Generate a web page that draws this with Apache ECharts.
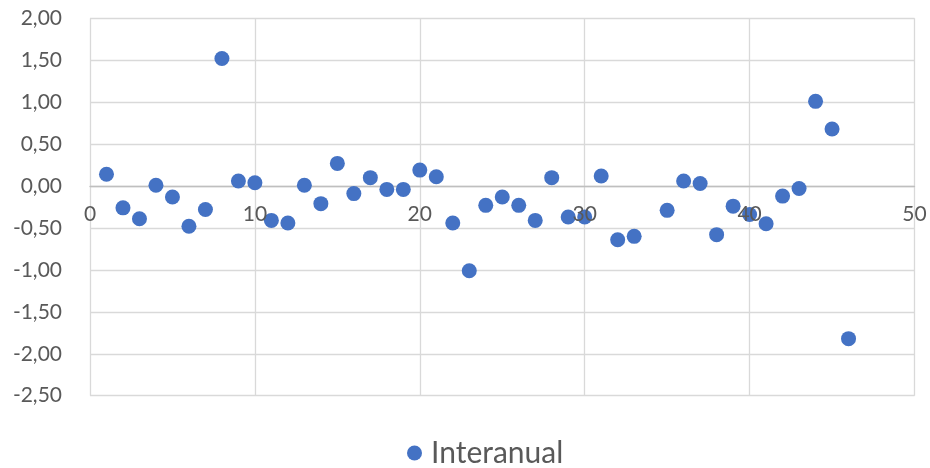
<!DOCTYPE html>
<html>
<head>
<meta charset="utf-8">
<script src="https://cdn.jsdelivr.net/npm/echarts@6/dist/echarts.min.js"></script>
<style>html,body{margin:0;padding:0;background:#fff;}#c{width:930px;height:468px;}</style>
</head>
<body>
<div id="c"></div>
<script>
const seriesName = 'Interanual';
const xValues = [1,2,3,4,5,6,7,8,9,10,11,12,13,14,15,16,17,18,19,20,21,22,23,24,25,26,27,28,29,30,31,32,33,35,36,37,38,39,40,41,42,43,44,45,46];
const yValues = [0.14,-0.26,-0.39,0.01,-0.13,-0.48,-0.28,1.52,0.06,0.04,-0.41,-0.44,0.01,-0.21,0.27,-0.09,0.10,-0.04,-0.04,0.19,0.11,-0.44,-1.01,-0.23,-0.13,-0.23,-0.41,0.10,-0.37,-0.37,0.12,-0.64,-0.60,-0.29,0.06,0.03,-0.58,-0.24,-0.34,-0.45,-0.12,-0.03,1.01,0.68,-1.82];

const points = xValues.map((x, i) => [x, yValues[i]]);
const font = 'Lato, "Open Sans", sans-serif';
const gridTop = 18.3, gridBottom = 72.3, chartH = 468;
const xMin = 0, xMax = 50, xStep = 10;
const yMin = -2.5, yMax = 2;
// distance from the plot's bottom edge up to the zero line, so the x labels sit under the zero line
const zeroOffset = (chartH - gridBottom - gridTop) * (0 - yMin) / (yMax - yMin);
const chart = echarts.init(document.getElementById('c'));
chart.setOption({
  animation: false,
  grid: { left: 90, right: 15.5, top: gridTop, bottom: gridBottom, containLabel: false },
  legend: {
    top: 433, left: 402,
    icon: 'circle', itemWidth: 15, itemHeight: 15, itemGap: 10,
    textStyle: { fontSize: 30, color: '#595959', fontFamily: font, padding: [0, 0, 0, 4] },
    data: [seriesName]
  },
  xAxis: [{
    type: 'value', min: xMin, max: xMax, interval: xStep, position: 'bottom',
    axisLine: { show: true, onZero: true, lineStyle: { color: '#bfbfbf', width: 1.3 } },
    axisTick: { show: false },
    axisLabel: { show: false },
    splitLine: { show: true, lineStyle: { color: '#d9d9d9', width: 1.3 } }
  }, {
    type: 'value', min: xMin, max: xMax, interval: xStep, position: 'bottom', z: 5,
    axisLine: { show: false, onZero: false },
    axisTick: { show: false },
    axisLabel: { fontSize: 21, color: '#595959', fontFamily: font, margin: 18 - zeroOffset },
    splitLine: { show: false }
  }],
  yAxis: {
    type: 'value', min: yMin, max: yMax, interval: 0.5,
    axisLine: { show: false },
    axisTick: { show: false },
    axisLabel: { fontSize: 21, color: '#595959', fontFamily: font, margin: 28,
      formatter: v => v.toFixed(2).replace('.', ',') },
    splitLine: { show: true, lineStyle: { color: '#d9d9d9', width: 1.3 } }
  },
  series: [{
    name: seriesName, type: 'scatter', data: points, xAxisIndex: 0,
    symbolSize: 15,
    itemStyle: { color: '#4472C4', opacity: 1 }
  }]
});
</script>
</body>
</html>
